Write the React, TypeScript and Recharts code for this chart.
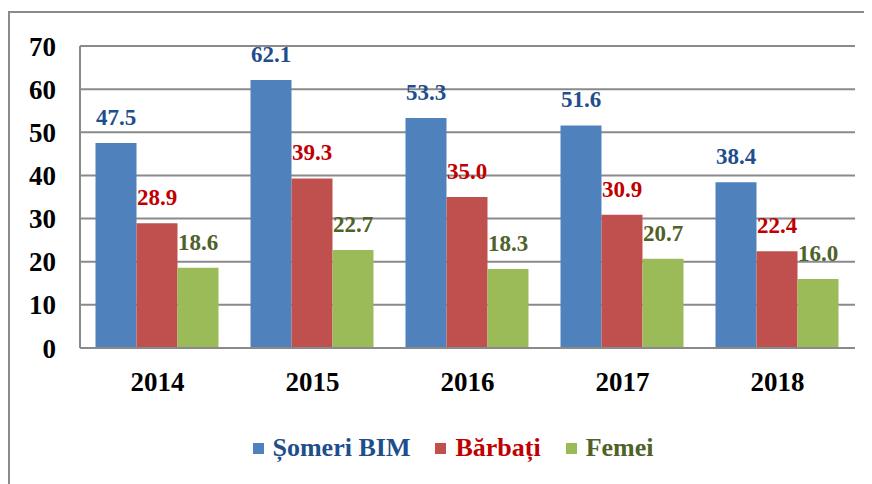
import React from "react"
import { BarChart, Bar, XAxis, YAxis, CartesianGrid, LabelList } from "recharts"

// Years on the category axis
const years = ["2014", "2015", "2016", "2017", "2018"]

// Series values, thousand persons
const someriBim = [47.5, 62.1, 53.3, 51.6, 38.4]
const barbati = [28.9, 39.3, 35.0, 30.9, 22.4]
const femei = [18.6, 22.7, 18.3, 20.7, 16.0]

const yTicks = [0, 10, 20, 30, 40, 50, 60, 70]

const series = [
    { key: "someri", name: "Șomeri BIM", fill: "#4F81BD", text: "#1F4E8C" },
    { key: "barbati", name: "Bărbați", fill: "#C0504D", text: "#C00000" },
    { key: "femei", name: "Femei", fill: "#9BBB59", text: "#4F6228" },
]

const data = years.map((year, i) => ({
    year,
    someri: someriBim[i],
    barbati: barbati[i],
    femei: femei[i],
}))

const FONT = "'Liberation Serif', 'Times New Roman', serif"
const GRID = "#8a8a8a"

const App: React.FC = () => {
    return (
        <div style={{ position: "relative", width: 864, height: 476, fontFamily: FONT, overflow: "hidden" }}>
            {/* no scrollbars, the frame runs off the page like in the original */}
            <style>{"html, body { overflow: hidden; }"}</style>
            {/* outer frame, only top and left edges are visible */}
            <div
                style={{
                    position: "absolute",
                    left: 0,
                    top: 3,
                    width: 864,
                    height: 473,
                    borderTop: `2px solid ${GRID}`,
                    borderLeft: `2px solid ${GRID}`,
                    boxSizing: "border-box",
                }}
            />
            <BarChart
                width={864}
                height={476}
                data={data}
                margin={{ top: 38, right: 17, bottom: 76, left: 0 }}
                barCategoryGap="10%"
                barGap={0}
                style={{ position: "absolute", left: 0, top: 0 }}
            >
                <CartesianGrid vertical={false} stroke={GRID} strokeWidth={2} />
                <XAxis
                    dataKey="year"
                    height={60}
                    axisLine={{ stroke: GRID, strokeWidth: 2 }}
                    tickLine={false}
                    tickSize={0}
                    tickMargin={24}
                    tick={{ fill: "#000", fontSize: 27, fontWeight: "bold", fontFamily: FONT }}
                />
                <YAxis
                    width={72}
                    domain={[0, 70]}
                    ticks={yTicks}
                    interval={0}
                    axisLine={{ stroke: GRID, strokeWidth: 2 }}
                    tickLine={false}
                    tickSize={0}
                    tickMargin={24}
                    tick={{ fill: "#000", fontSize: 27, fontWeight: "bold", fontFamily: FONT }}
                />
                {series.map((s) => (
                    <Bar key={s.key} dataKey={s.key} name={s.name} fill={s.fill} isAnimationActive={false}>
                        <LabelList
                            dataKey={s.key}
                            position="top"
                            offset={18}
                            formatter={(v: unknown) => Number(v).toFixed(1)}
                            style={{ fill: s.text, fontSize: 23, fontWeight: "bold", fontFamily: FONT }}
                        />
                    </Bar>
                ))}
            </BarChart>
            {/* legend */}
            <div
                style={{
                    position: "absolute",
                    left: 0,
                    top: 425,
                    width: 864,
                    paddingLeft: 26,
                    boxSizing: "border-box",
                    display: "flex",
                    justifyContent: "center",
                    gap: 25,
                    fontWeight: "bold",
                    fontSize: 26,
                    lineHeight: "30px",
                }}
            >
                {series.map((s) => (
                    <div key={s.key} style={{ display: "flex", alignItems: "center", color: s.text }}>
                        <span style={{ display: "inline-block", width: 11, height: 11, background: s.fill, marginRight: 9 }} />
                        {s.name}
                    </div>
                ))}
            </div>
        </div>
    )
}

export default App
